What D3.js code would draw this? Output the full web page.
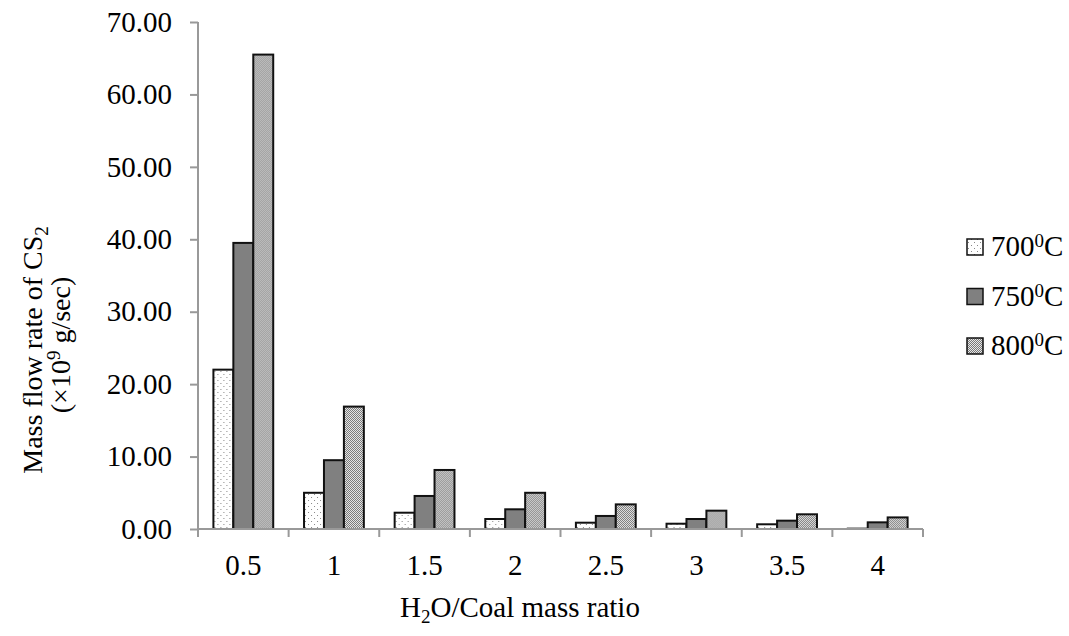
<!DOCTYPE html>
<html>
<head>
<meta charset="utf-8">
<script src="https://cdn.jsdelivr.net/npm/d3@7"></script>
<style>
  body { margin: 0; background: #fff; }
  svg { display: block; font-family: "Liberation Serif", "Times New Roman", serif; }
</style>
</head>
<body>
<div id="chart"></div>
<script>
// data
const ratios = ["0.5", "1", "1.5", "2", "2.5", "3", "3.5", "4"];
const series = ["700", "750", "800"];
const flow700 = [22.0, 5.0, 2.25, 1.38, 0.87, 0.73, 0.65, 0.05];
const flow750 = [39.5, 9.5, 4.56, 2.72, 1.8, 1.38, 1.15, 0.92];
const flow800 = [65.5, 16.9, 8.15, 5.0, 3.4, 2.53, 2.03, 1.6];
const yTicks = [0, 10, 20, 30, 40, 50, 60, 70];

const values = {"700": flow700, "750": flow750, "800": flow800};

const W = 1069, H = 636;
const margin = {top: 22, left: 198, right: 146, bottom: 107};
const width = W - margin.left - margin.right,
      height = H - margin.top - margin.bottom;

const svg = d3.select("#chart").append("svg")
    .attr("width", W).attr("height", H);

// fills
const defs = svg.append("defs");
const dots = defs.append("pattern").attr("id", "p700")
    .attr("patternUnits", "userSpaceOnUse").attr("width", 6).attr("height", 6);
dots.append("rect").attr("width", 6).attr("height", 6).attr("fill", "#fff");
dots.append("rect").attr("x", 1).attr("y", 1).attr("width", 1).attr("height", 1).attr("fill", "#888");
dots.append("rect").attr("x", 4).attr("y", 4).attr("width", 1).attr("height", 1).attr("fill", "#888");

const check = defs.append("pattern").attr("id", "p800")
    .attr("patternUnits", "userSpaceOnUse").attr("width", 2).attr("height", 2);
check.append("rect").attr("width", 2).attr("height", 2).attr("fill", "#e8e8e8");
check.append("rect").attr("width", 1).attr("height", 1).attr("fill", "#777");
check.append("rect").attr("x", 1).attr("y", 1).attr("width", 1).attr("height", 1).attr("fill", "#777");

const fill = {"700": "url(#p700)", "750": "#808080", "800": "url(#p800)"};

const g = svg.append("g")
    .attr("transform", "translate(" + margin.left + "," + margin.top + ")");

const x = d3.scaleBand().domain(ratios).range([0, width]).paddingInner(0.34).paddingOuter(0.17);
const xs = d3.scaleBand().domain(series).range([0, x.bandwidth()]);
const y = d3.scaleLinear().domain([0, 70]).range([height, 0]);

// y axis
const yAxis = g.append("g")
    .call(d3.axisLeft(y).tickValues(yTicks).tickFormat(d3.format(".2f")).tickSizeOuter(0).tickSize(8).tickPadding(18));
yAxis.select(".domain").attr("stroke", "#999").attr("stroke-width", 2)
    .attr("d", "M0," + (height + 8) + "V0");
yAxis.selectAll(".tick line").attr("stroke", "#999").attr("stroke-width", 2);
yAxis.selectAll(".tick text").attr("font-size", 29).attr("fill", "#000")
    .attr("font-family", "Liberation Serif");

// bars
const groups = g.selectAll(".grp").data(ratios).enter().append("g")
    .attr("transform", d => "translate(" + x(d) + ",0)");
groups.selectAll("rect")
    .data((d, i) => series.map(s => ({s: s, v: values[s][i]})))
    .enter().append("rect")
    .attr("x", d => xs(d.s))
    .attr("y", d => y(d.v))
    .attr("width", xs.bandwidth())
    .attr("height", d => height - y(d.v))
    .attr("fill", d => fill[d.s])
    .attr("stroke", "#111")
    .attr("stroke-width", 2);

// x axis
const step = width / ratios.length;
const xAxis = g.append("g").attr("transform", "translate(0," + height + ")");
xAxis.append("line").attr("x1", 0).attr("x2", width)
    .attr("stroke", "#999").attr("stroke-width", 2);
xAxis.selectAll(".tk").data(d3.range(1, ratios.length + 1)).enter().append("line")
    .attr("x1", d => d * step).attr("x2", d => d * step)
    .attr("y1", 0).attr("y2", 8)
    .attr("stroke", "#999").attr("stroke-width", 2);
xAxis.selectAll(".lbl").data(ratios).enter().append("text")
    .attr("x", d => x(d) + x.bandwidth() / 2)
    .attr("y", 46)
    .attr("text-anchor", "middle")
    .attr("font-size", 29)
    .text(d => d);

// axis titles
const xt = svg.append("text").attr("x", 520).attr("y", 617)
    .attr("text-anchor", "middle").attr("font-size", 29);
xt.append("tspan").text("H");
xt.append("tspan").attr("font-size", 19).attr("dy", 6).text("2");
xt.append("tspan").attr("dy", -6).text("O/Coal mass ratio");

const yt = svg.append("text").attr("transform", "translate(42,350) rotate(-90)")
    .attr("text-anchor", "middle").attr("font-size", 28);
yt.append("tspan").text("Mass flow rate of CS");
yt.append("tspan").attr("font-size", 19).attr("dy", 6).text("2");

const yt2 = svg.append("text").attr("transform", "translate(70,345) rotate(-90)")
    .attr("text-anchor", "middle").attr("font-size", 28);
yt2.append("tspan").text("(\u00d710");
yt2.append("tspan").attr("font-size", 19).attr("dy", -10).text("9");
yt2.append("tspan").attr("dy", 10).text(" g/sec)");

// legend
const legend = svg.append("g").attr("transform", "translate(967,247)");
const item = legend.selectAll("g").data(series).enter().append("g")
    .attr("transform", (d, i) => "translate(0," + i * 49.5 + ")");
item.append("rect").attr("x", 0).attr("y", -8).attr("width", 16).attr("height", 16)
    .attr("fill", d => fill[d]).attr("stroke", "#111").attr("stroke-width", 1.5);
const lt = item.append("text").attr("x", 24).attr("y", 9).attr("font-size", 29);
lt.append("tspan").text(d => d);
lt.append("tspan").attr("font-size", 19).attr("dy", -9).text("0");
lt.append("tspan").attr("dy", 9).text("C");
</script>
</body>
</html>
